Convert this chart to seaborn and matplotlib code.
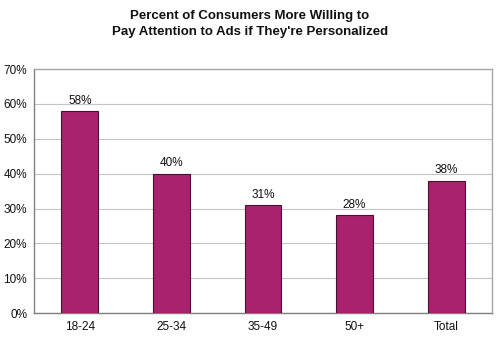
import matplotlib
matplotlib.use("Agg")
import matplotlib.pyplot as plt
import seaborn as sns
import pandas as pd
from matplotlib.ticker import FixedLocator, PercentFormatter

categories = ["18-24", "25-34", "35-49", "50+", "Total"]
values = [58, 40, 31, 28, 38]
labels = ["58%", "40%", "31%", "28%", "38%"]
title = "Percent of Consumers More Willing to\nPay Attention to Ads if They're Personalized"

sns.set_theme(style="white")
plt.rcParams["font.family"] = ["Liberation Sans", "DejaVu Sans"]

df = pd.DataFrame({"group": categories, "pct": values})

fig = plt.figure(figsize=(5, 3.4), dpi=100)
ax = fig.add_axes([0.068, 0.079, 0.916, 0.718])

sns.barplot(data=df, x="group", y="pct", color="#A8226E", saturation=1,
            width=0.40, edgecolor="#4a1030", linewidth=0.8, ax=ax, zorder=3)

ax.set_ylim(0, 70)
ax.set_xlim(-0.5, len(categories) - 0.5)
ax.set_yticks(range(0, 71, 10))
ax.yaxis.set_major_formatter(PercentFormatter(decimals=0))
ax.grid(axis="y", color="#c4c4c4", linewidth=0.8, zorder=0)
ax.set_xlabel("")
ax.set_ylabel("")

for i, (v, lab) in enumerate(zip(values, labels)):
    ax.text(i, v + 1.2, lab, ha="center", va="bottom", fontsize=8.5, color="#111111")

ax.tick_params(axis="x", which="major", length=0, labelsize=8.5, pad=6, colors="#111111")
ax.xaxis.set_minor_locator(FixedLocator([k + 0.5 for k in range(-1, len(categories))]))
ax.tick_params(axis="x", which="minor", length=3, color="#808080", direction="out")
ax.tick_params(axis="y", which="major", length=3, color="#808080", direction="out",
               labelsize=8.5, pad=2, colors="#111111")
for sp in ["top", "right"]:
    ax.spines[sp].set_color("#a8a8a8")
    ax.spines[sp].set_linewidth(1.0)
for sp in ["left", "bottom"]:
    ax.spines[sp].set_color("#808080")
    ax.spines[sp].set_linewidth(1.0)

fig.suptitle(title, x=0.5, y=0.97, fontsize=9.5, fontweight="bold", linespacing=1.45, color="#111111")

fig.savefig("out.png", dpi=100)
